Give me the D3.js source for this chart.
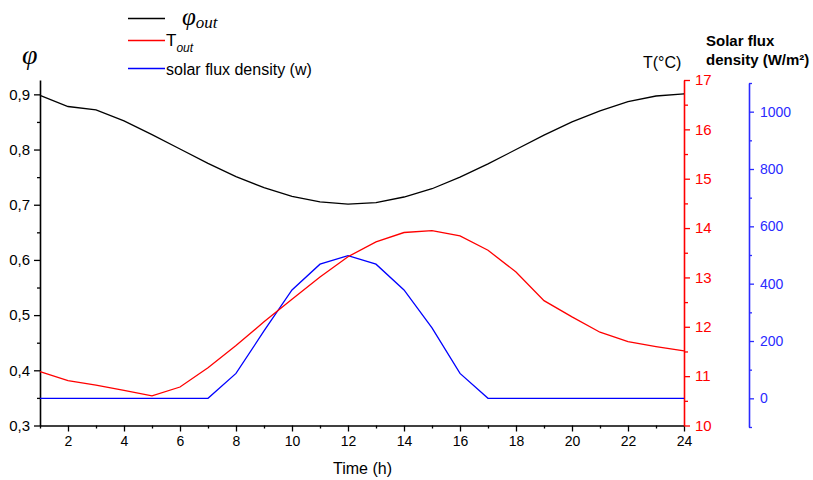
<!DOCTYPE html>
<html>
<head>
<meta charset="utf-8">
<script src="https://cdn.jsdelivr.net/npm/d3@7"></script>
<style>
  html, body { margin: 0; padding: 0; background: #fff; }
  svg { display: block; font-family: "Liberation Sans", Arial, sans-serif; }
</style>
</head>
<body>
<svg id="chart" width="813" height="480"></svg>
<script>
// Hourly values over one day
const hours = d3.range(1, 25);
const phiOut = [0.898, 0.878, 0.872, 0.852, 0.827, 0.801, 0.775, 0.751, 0.731, 0.715, 0.705, 0.701,
                0.704, 0.714, 0.729, 0.750, 0.774, 0.800, 0.826, 0.850, 0.870, 0.887, 0.897, 0.901];
const tOut = [11.09, 10.91, 10.82, 10.71, 10.60, 10.78, 11.17, 11.62, 12.10, 12.56, 13.01, 13.42,
              13.72, 13.91, 13.95, 13.84, 13.55, 13.11, 12.53, 12.20, 11.89, 11.70, 11.60, 11.51];
const solarFlux = [0, 0, 0, 0, 0, 0, 0, 87, 235, 378, 468, 498,
                   468, 378, 246, 87, 0, 0, 0, 0, 0, 0, 0, 0];

// Tick values
const timeTicks = d3.range(2, 25, 2);
const timeMinor = d3.range(1, 24, 2);
const phiTicks = [0.3, 0.4, 0.5, 0.6, 0.7, 0.8, 0.9];
const phiMinor = [0.35, 0.45, 0.55, 0.65, 0.75, 0.85];
const tTicks = [10, 11, 12, 13, 14, 15, 16, 17];
const tMinor = [10.5, 11.5, 12.5, 13.5, 14.5, 15.5, 16.5];
const fluxTicks = [0, 200, 400, 600, 800, 1000];
const fluxMinor = [-100, 100, 300, 500, 700, 900, 1100];

const RED = "#ff0000", BLUE = "#0000ff", AXBLUE = "#2a2aff";

const svg = d3.select("#chart");

const x = d3.scaleLinear().domain([1, 24]).range([40, 684]);
const yPhi = d3.scaleLinear().domain([0.3, 0.926]).range([425.5, 80]);
const yT = d3.scaleLinear().domain([10, 17]).range([425.5, 80]);
const yFlux = d3.scaleLinear().domain([-100, 1100]).range([427, 83]);

function styleAxis(g, color, size) {
  g.select(".domain").attr("stroke", color).attr("stroke-width", 1.6);
  g.selectAll(".tick line").attr("stroke", color).attr("stroke-width", 1.3);
  g.selectAll(".tick text").attr("fill", color)
    .style("font-family", '"Liberation Sans", Arial, sans-serif')
    .style("font-size", size + "px");
}

// Bottom time axis
const gx = svg.append("g").attr("transform", "translate(0,425.5)");
gx.call(d3.axisBottom(x).tickValues(timeMinor).tickSize(3).tickSizeOuter(0).tickFormat(""));
gx.call(g => styleAxis(g, "#000", 14));
const gx2 = svg.append("g").attr("transform", "translate(0,425.5)");
gx2.call(d3.axisBottom(x).tickValues(timeTicks).tickSize(6).tickSizeOuter(0).tickPadding(5)
  .tickFormat(d3.format("d")));
gx2.select(".domain").remove();
gx2.call(g => styleAxis(g, "#000", 14));

// Left relative humidity axis
const gy = svg.append("g").attr("transform", "translate(40,0)");
gy.call(d3.axisLeft(yPhi).tickValues(phiMinor).tickSize(3).tickSizeOuter(0).tickFormat(""));
gy.call(g => styleAxis(g, "#000", 15));
const gy2 = svg.append("g").attr("transform", "translate(40,0)");
gy2.call(d3.axisLeft(yPhi).tickValues(phiTicks).tickSize(6).tickPadding(4)
  .tickFormat(d => d.toFixed(1).replace(".", ",")));
gy2.select(".domain").remove();
gy2.call(g => styleAxis(g, "#000", 15));

// Right temperature axis
const gt = svg.append("g").attr("transform", "translate(684,0)");
gt.call(d3.axisRight(yT).tickValues(tMinor).tickSize(4).tickSizeOuter(0).tickFormat(""));
gt.call(g => styleAxis(g, RED, 15));
const gt2 = svg.append("g").attr("transform", "translate(684,0)");
gt2.call(d3.axisRight(yT).tickValues(tTicks).tickSize(6).tickPadding(5)
  .tickFormat(d3.format("d")));
gt2.select(".domain").remove();
gt2.call(g => styleAxis(g, RED, 15));

// Far right solar flux axis
const gf = svg.append("g").attr("transform", "translate(749,0)");
gf.call(d3.axisRight(yFlux).tickValues(fluxMinor).tickSize(3).tickSizeOuter(0).tickFormat(""));
gf.call(g => styleAxis(g, AXBLUE, 14));
const gf2 = svg.append("g").attr("transform", "translate(749,0)");
gf2.call(d3.axisRight(yFlux).tickValues(fluxTicks).tickSize(5).tickPadding(6)
  .tickFormat(d3.format("d")));
gf2.select(".domain").remove();
gf2.call(g => styleAxis(g, AXBLUE, 14));

// Data lines
const line = (yScale, values) => d3.line().x((d, i) => x(hours[i])).y(d => yScale(d))(values);

svg.append("path").attr("d", line(yFlux, solarFlux))
  .attr("fill", "none").attr("stroke", BLUE).attr("stroke-width", 1.3);
svg.append("path").attr("d", line(yT, tOut))
  .attr("fill", "none").attr("stroke", RED).attr("stroke-width", 1.3);
svg.append("path").attr("d", line(yPhi, phiOut))
  .attr("fill", "none").attr("stroke", "#000").attr("stroke-width", 1.3);

// Axis titles
svg.append("text").attr("x", 22).attr("y", 64)
  .style("font-family", '"Liberation Serif", "Times New Roman", serif')
  .style("font-style", "italic").style("font-size", "28px").text("φ");

svg.append("text").attr("x", 643).attr("y", 68)
  .style("font-size", "16px").text("T(°C)");

const fluxTitle = svg.append("text").attr("x", 706).attr("y", 46)
  .style("font-size", "15px").style("font-weight", "bold");
fluxTitle.append("tspan").attr("x", 706).attr("y", 46).text("Solar flux");
fluxTitle.append("tspan").attr("x", 706).attr("y", 65).text("density (W/m²)");

svg.append("text").attr("x", 362.5).attr("y", 474).attr("text-anchor", "middle")
  .style("font-size", "16px").text("Time (h)");

// Legend
const legend = svg.append("g");
legend.append("line").attr("x1", 128).attr("x2", 165).attr("y1", 18.5).attr("y2", 18.5)
  .attr("stroke", "#000").attr("stroke-width", 1.3);
const phiLbl = legend.append("text").attr("x", 182).attr("y", 25)
  .style("font-family", '"Liberation Serif", "Times New Roman", serif').style("font-style", "italic");
phiLbl.append("tspan").style("font-size", "25px").text("φ");
phiLbl.append("tspan").attr("dy", 3).style("font-size", "17px").text("out");

legend.append("line").attr("x1", 128).attr("x2", 165).attr("y1", 40.5).attr("y2", 40.5)
  .attr("stroke", RED).attr("stroke-width", 1.3);
const tLbl = legend.append("text").attr("x", 166).attr("y", 46);
tLbl.append("tspan").style("font-size", "17px").text("T");
tLbl.append("tspan").attr("dy", 6).style("font-size", "12px").style("font-style", "italic").text("out");

legend.append("line").attr("x1", 128).attr("x2", 165).attr("y1", 68.5).attr("y2", 68.5)
  .attr("stroke", BLUE).attr("stroke-width", 1.3);
legend.append("text").attr("x", 166).attr("y", 74.5)
  .style("font-size", "16px").text("solar flux density (w)");
</script>
</body>
</html>
